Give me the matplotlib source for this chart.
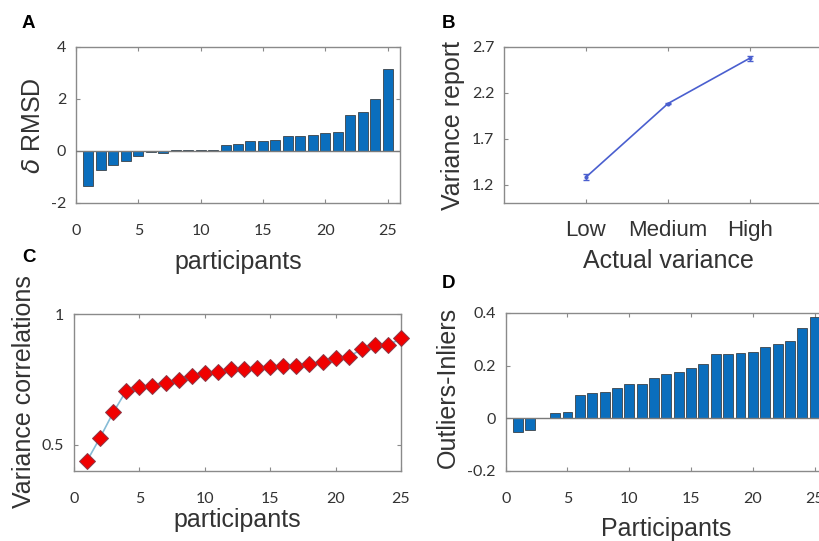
import matplotlib
matplotlib.use('Agg')
import matplotlib.pyplot as plt
import numpy as np

plt.rcParams['font.family'] = 'Liberation Sans'
plt.rcParams['mathtext.fontset'] = 'dejavusans'
plt.rcParams['axes.unicode_minus'] = False

# A: difference in RMSD per participant (sorted)
participants = np.arange(1, 26)
delta_rmsd = [-1.36, -0.72, -0.55, -0.39, -0.19, -0.05, -0.07, 0.04, 0.04, 0.04,
              0.04, 0.25, 0.28, 0.37, 0.40, 0.43, 0.56, 0.59, 0.62, 0.70,
              0.73, 1.40, 1.51, 2.00, 3.14]

# B: mean reported variance per condition
variance_levels = ['Low', 'Medium', 'High']
variance_report = [1.282, 2.084, 2.579]
variance_err = [0.032, 0.010, 0.027]

# C: correlation between actual and reported variance (sorted)
variance_corr = [0.439, 0.528, 0.624, 0.707, 0.720, 0.725, 0.735, 0.746, 0.763, 0.773,
                 0.777, 0.788, 0.791, 0.795, 0.797, 0.801, 0.802, 0.809, 0.816, 0.832,
                 0.837, 0.865, 0.881, 0.880, 0.907]

# D: outliers minus inliers (sorted)
out_minus_in = [-0.050, -0.044, 0.0, 0.019, 0.025, 0.087, 0.095, 0.100, 0.116, 0.129,
                0.131, 0.152, 0.168, 0.177, 0.191, 0.205, 0.243, 0.246, 0.247, 0.252,
                0.272, 0.284, 0.295, 0.342, 0.385]

a_yticks = [-2, 0, 2, 4]
b_yticks = [1.2, 1.7, 2.2, 2.7]
c_yticks = [0.5, 1.0]
c_yticklabels = ['0.5', '1']
d_yticks = [-0.2, 0.0, 0.2, 0.4]
d_yticklabels = ['-0.2', '0', '0.2', '0.4']
p_xticks = [0, 5, 10, 15, 20, 25]

BAR_BLUE = '#0a6ebd'
BOX = '#8a8a8a'
W, H = 820, 541

fig = plt.figure(figsize=(8.2, 5.41), dpi=100)


def px_axes(left, top, right, bottom):
    return fig.add_axes([left / W, (H - bottom) / H, (right - left) / W, (bottom - top) / H])


def style(ax, num_x=True):
    for s in ax.spines.values():
        s.set_color(BOX)
        s.set_linewidth(1.0)
    ax.tick_params(direction='in', length=3, width=0.8, color=BOX,
                   top=True, right=True, labelcolor='#333333')
    ax.tick_params(axis='y', pad=7, labelsize=11.5)
    ax.tick_params(axis='x', pad=15, labelsize=11.5)
    for lab in ax.get_yticklabels():
        lab.set_fontfamily('Lato')
    if num_x:
        for lab in ax.get_xticklabels():
            lab.set_fontfamily('Lato')


LABEL_KW = dict(fontsize=18, color='#333333', va='center')

# Panel A
axA = px_axes(76, 47, 400, 203)
axA.bar(participants, delta_rmsd, width=0.8, color=BAR_BLUE, edgecolor='#2b2b2b', linewidth=0.5, zorder=2)
axA.axhline(0, color='#7a7a7a', linewidth=1.0, zorder=3)
axA.set_xlim(0, 26)
axA.set_ylim(-2, 4)
axA.set_xticks(p_xticks)
axA.set_yticks(a_yticks)
style(axA)
axA.set_ylabel(r'$\delta$ RMSD', **LABEL_KW)
axA.yaxis.set_label_coords(-0.133, 0.494)
axA.set_xlabel('participants', **LABEL_KW)
axA.xaxis.set_label_coords(0.5, -0.375)

# Panel B
axB = px_axes(504, 47, 832, 203)
xb = np.arange(1, len(variance_levels) + 1)
axB.errorbar(xb, variance_report, yerr=variance_err, color='#4a5fcf', linewidth=1.2,
             marker='.', markersize=4, capsize=2.5, elinewidth=1.0, capthick=1.0)
axB.set_xlim(0, 4)
axB.set_ylim(1.0, 2.7)
axB.set_xticks(xb)
axB.set_xticklabels(variance_levels)
axB.set_yticks(b_yticks)
style(axB, num_x=False)
axB.tick_params(axis='x', labelsize=16, pad=12)
axB.set_ylabel('Variance report', **LABEL_KW)
axB.yaxis.set_label_coords(-0.155, 0.494)
axB.set_xlabel('Actual variance', **LABEL_KW)
axB.xaxis.set_label_coords(0.5, -0.375)

# Panel C
axC = px_axes(74, 314, 401, 471)
axC.plot(participants, variance_corr, color='#86bcd6', linewidth=1.2,
         marker='D', markersize=8.5, markerfacecolor='#f00000',
         markeredgecolor='#8a3a48', markeredgewidth=0.7, clip_on=False, zorder=3)
axC.set_xlim(0, 25)
axC.set_ylim(0.4, 1.0)
axC.set_xticks(p_xticks)
axC.set_yticks(c_yticks)
axC.set_yticklabels(c_yticklabels)
style(axC)
axC.set_ylabel('Variance correlations', **LABEL_KW)
axC.yaxis.set_label_coords(-0.153, 0.503)
axC.set_xlabel('participants', **LABEL_KW)
axC.xaxis.set_label_coords(0.5, -0.31)

# Panel D
axD = px_axes(505.7, 313, 827, 471)
axD.bar(participants, out_minus_in, width=0.8, color=BAR_BLUE, edgecolor='#2b2b2b', linewidth=0.5, zorder=2)
axD.axhline(0, color='#7a7a7a', linewidth=1.0, zorder=3)
axD.set_xlim(0, 26)
axD.set_ylim(-0.2, 0.4)
axD.set_xticks(p_xticks)
axD.set_yticks(d_yticks)
axD.set_yticklabels(d_yticklabels)
style(axD)
axD.set_ylabel('Outliers-Inliers', **LABEL_KW)
axD.yaxis.set_label_coords(-0.179, 0.53)
axD.set_xlabel('Participants', **LABEL_KW)
axD.xaxis.set_label_coords(0.5, -0.365)

# Panel letters
for letter, x, y in [('A', 22, 23), ('B', 442, 23), ('C', 22, 257), ('D', 442, 283)]:
    fig.text(x / W, 1 - y / H, letter, fontsize=13.5, fontweight='bold',
             ha='left', va='center')

fig.savefig('out.png', dpi=100)
